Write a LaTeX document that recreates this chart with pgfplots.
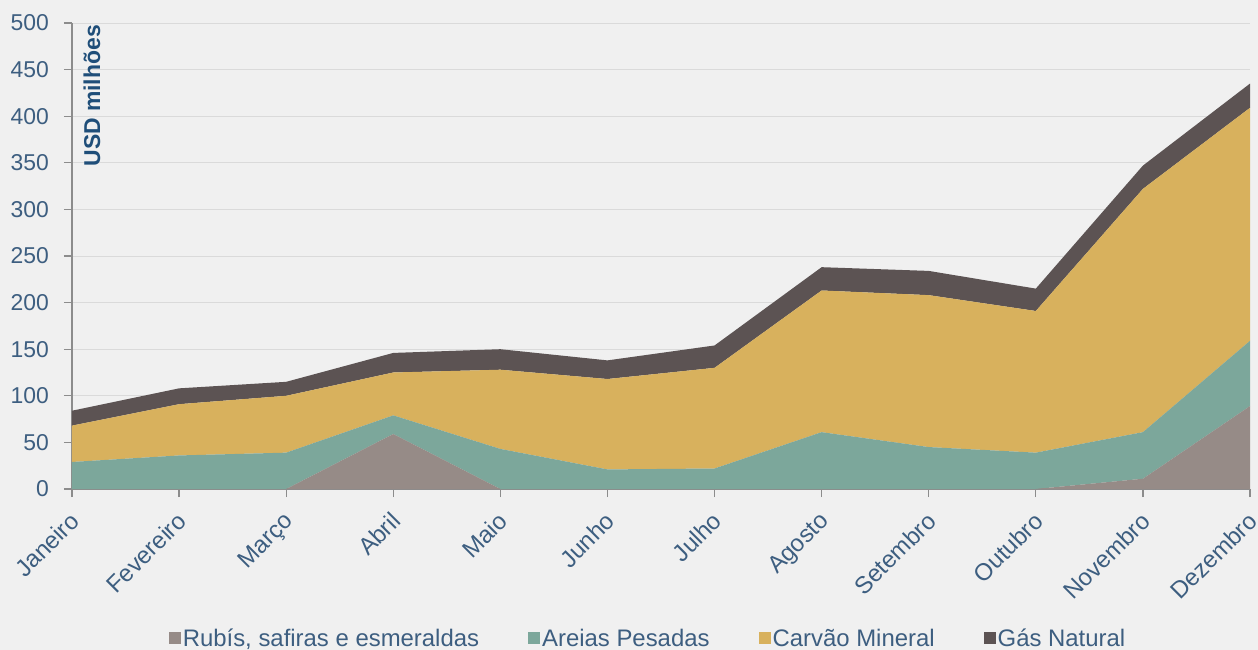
\documentclass[border=0pt]{standalone}
\usepackage{fontspec}
\setmainfont{Liberation Sans}
\usepackage{pgfplots}
\pgfplotsset{compat=1.18}
\definecolor{bg}{HTML}{F0F0F0}
\definecolor{rub}{HTML}{968B87}
\definecolor{are}{HTML}{7CA79B}
\definecolor{car}{HTML}{D8B15D}
\definecolor{gas}{HTML}{5C5353}
\definecolor{txt}{HTML}{3D5E80}
\definecolor{ylab}{HTML}{1F4E79}
\definecolor{grd}{HTML}{DADADA}
\definecolor{axl}{HTML}{8C8C8C}
\begin{document}
\begin{tikzpicture}
\useasboundingbox (-72bp,-161bp) rectangle (1186bp,489bp);
\fill[bg] (-72bp,-161bp) rectangle (1186bp,489bp);
\begin{axis}[
  at={(0,0)}, anchor=south west, scale only axis,
  width=1178bp, height=466bp,
  xmin=0, xmax=11, ymin=0, ymax=500,
  xtick={0,...,11},
  xticklabels={Janeiro,Fevereiro,Março,Abril,Maio,Junho,Julho,Agosto,Setembro,Outubro,Novembro,Dezembro},
  ytick={0,50,...,500},
  axis x line*=bottom, axis y line*=left,
  axis line style={axl, line width=1.5bp},
  tick style={axl, line width=1.2bp}, tick align=outside, major tick length=8bp,
  ymajorgrids, grid style={grd, line width=1bp},
  ticklabel style={text=txt},
  /pgf/number format/assume math mode=true,
  yticklabel style={font=\fontsize{23}{27}\selectfont, inner sep=3bp, xshift=-12bp},
  xticklabel style={font=\fontsize{24}{28}\selectfont, rotate=45, anchor=north east, inner sep=2bp, xshift=-10bp, yshift=-5bp},
  stack plots=y,
  legend image code/.code={\fill[#1] (0bp,-6bp) rectangle (12bp,6bp);},
  legend style={at={(0.489,-0.320)}, anchor=center, draw=none, fill=none,
    legend columns=-1, font=\fontsize{24}{28}\selectfont, text=txt,
    nodes={inner sep=2bp},
    /tikz/every even column/.append style={column sep=47bp}},
]
\addplot[fill=rub, draw=none] coordinates {(0,0) (1,0) (2,0) (3,59) (4,0) (5,0) (6,0) (7,0) (8,0) (9,0) (10,11) (11,89)} \closedcycle;
\addlegendentry{Rubís, safiras e esmeraldas}
\addplot[fill=are, draw=none] coordinates {(0,29) (1,36) (2,39) (3,20) (4,43) (5,21) (6,22) (7,61) (8,45) (9,39) (10,50) (11,70)} \closedcycle;
\addlegendentry{Areias Pesadas}
\addplot[fill=car, draw=none] coordinates {(0,39) (1,55) (2,61) (3,46) (4,85) (5,97) (6,108) (7,152) (8,163) (9,152) (10,261) (11,250)} \closedcycle;
\addlegendentry{Carvão Mineral}
\addplot[fill=gas, draw=none] coordinates {(0,16) (1,17) (2,15) (3,21) (4,22) (5,20) (6,24) (7,25) (8,26) (9,24) (10,25) (11,26)} \closedcycle;
\addlegendentry{Gás Natural}
\draw[axl, line width=1.5bp] (rel axis cs:0,0) -- (rel axis cs:1,0);
\node[rotate=90, anchor=east, font=\bfseries\fontsize{23}{27}\selectfont, text=ylab, inner sep=0pt]
  at ([xshift=20bp, yshift=-2bp]rel axis cs:0,1) {USD milhões};
\end{axis}
\end{tikzpicture}
\end{document}
